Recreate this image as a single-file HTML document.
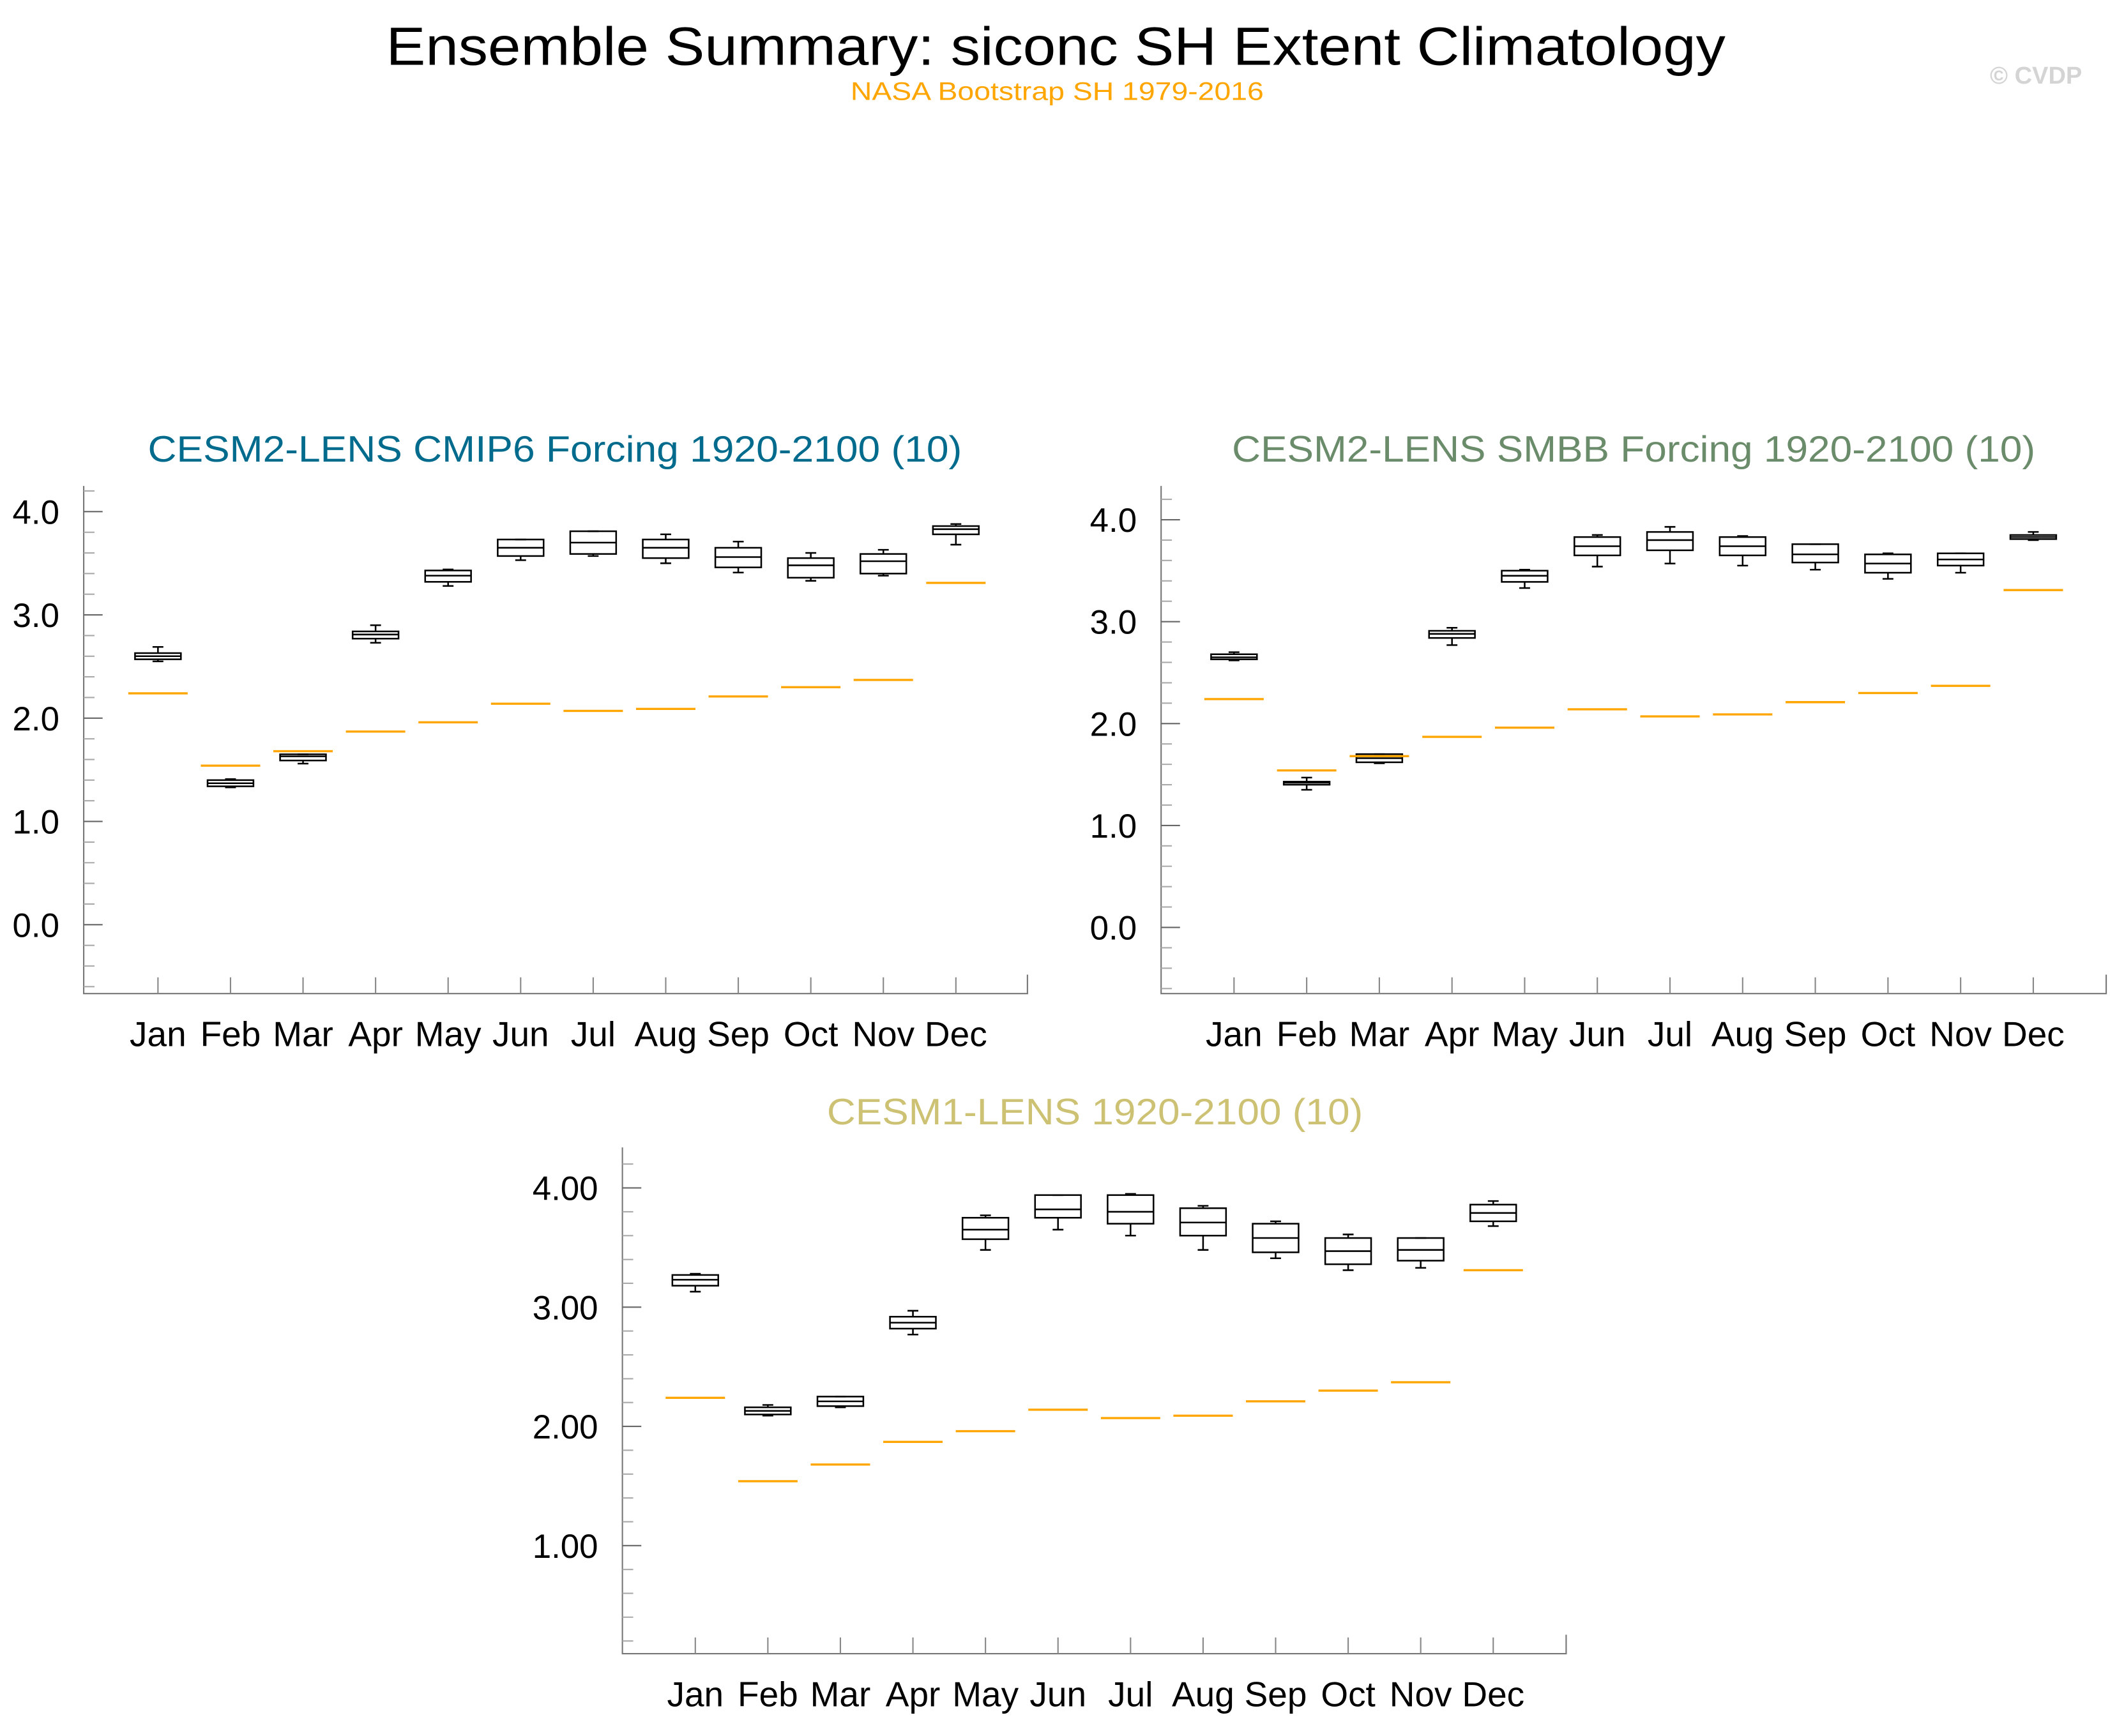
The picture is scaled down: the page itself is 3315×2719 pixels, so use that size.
<!DOCTYPE html>
<html><head><meta charset="utf-8">
<style>
html,body{margin:0;padding:0;background:#fff;}
svg{display:block;}
text{font-family:"Liberation Sans",Arial,sans-serif;}
</style></head>
<body>
<svg id="chart" width="3315" height="2719" viewBox="0 0 1568 1286" preserveAspectRatio="none" xmlns="http://www.w3.org/2000/svg">
<text x="782" y="48" font-size="40" text-anchor="middle" textLength="992" lengthAdjust="spacingAndGlyphs" fill="#000">Ensemble Summary: siconc SH Extent Climatology</text>
<text x="783" y="74" font-size="19" text-anchor="middle" textLength="306" lengthAdjust="spacingAndGlyphs" fill="#ffa500">NASA Bootstrap SH 1979-2016</text>
<text x="1508" y="62" font-size="18" font-weight="bold" text-anchor="middle" fill="#d4d4d4">© CVDP</text>
<g id="plots"></g>
</svg>
<script>
const months = ["Jan","Feb","Mar","Apr","May","Jun","Jul","Aug","Sep","Oct","Nov","Dec"];
const obs = [2.24,1.54,1.68,1.87,1.96,2.14,2.07,2.09,2.21,2.30,2.37,3.31];
const cmip6Max = [2.69,1.41,1.65,2.90,3.44,3.73,3.81,3.78,3.71,3.60,3.63,3.88];
const cmip6Q3  = [2.63,1.40,1.65,2.84,3.43,3.73,3.81,3.73,3.65,3.55,3.59,3.86];
const cmip6Med = [2.60,1.37,1.63,2.81,3.38,3.65,3.70,3.65,3.56,3.48,3.52,3.83];
const cmip6Q1  = [2.57,1.34,1.59,2.77,3.32,3.57,3.59,3.55,3.46,3.36,3.40,3.78];
const cmip6Min = [2.55,1.33,1.56,2.73,3.28,3.53,3.57,3.50,3.41,3.33,3.38,3.68];
const smbbMax = [2.70,1.47,1.70,2.94,3.51,3.85,3.93,3.84,3.76,3.67,3.67,3.88];
const smbbQ3  = [2.68,1.43,1.70,2.91,3.50,3.83,3.88,3.83,3.76,3.66,3.67,3.85];
const smbbMed = [2.65,1.42,1.66,2.88,3.45,3.74,3.80,3.74,3.66,3.57,3.61,3.83];
const smbbQ1  = [2.63,1.40,1.62,2.84,3.39,3.65,3.70,3.65,3.58,3.48,3.55,3.81];
const smbbMin = [2.62,1.35,1.61,2.77,3.33,3.54,3.57,3.55,3.51,3.42,3.48,3.80];
const lens1Max = [3.28,2.18,2.25,2.97,3.77,3.94,3.95,3.85,3.72,3.61,3.58,3.89];
const lens1Q3  = [3.27,2.16,2.25,2.92,3.75,3.94,3.94,3.83,3.70,3.58,3.58,3.86];
const lens1Med = [3.23,2.13,2.21,2.87,3.65,3.82,3.80,3.71,3.58,3.47,3.48,3.79];
const lens1Q1  = [3.18,2.10,2.17,2.82,3.57,3.75,3.70,3.60,3.46,3.36,3.39,3.72];
const lens1Min = [3.13,2.09,2.16,2.77,3.48,3.65,3.60,3.48,3.41,3.31,3.33,3.68];
const ticks1 = ["0.0","1.0","2.0","3.0","4.0"];
const ticks3 = ["1.00","2.00","3.00","4.00"];

const NS="http://www.w3.org/2000/svg";
const root=document.getElementById('plots');
function el(tag,attrs,parent){const e=document.createElementNS(NS,tag);for(const k in attrs)e.setAttribute(k,attrs[k]);(parent||root).appendChild(e);return e;}

const panels=[
 {name:"cmip6",title:"CESM2-LENS CMIP6 Forcing 1920-2100 (10)",color:"#006b8c",tx:411,ty:342,tl:603,
  left:62,right:761,top:360,bottom:736,v0y:685,v4y:379,vmin:-0.6,vmax:4.2,jan:117,dec:708,ticks:ticks1,
  mx:cmip6Max,q3:cmip6Q3,md:cmip6Med,q1:cmip6Q1,mn:cmip6Min},
 {name:"smbb",title:"CESM2-LENS SMBB Forcing 1920-2100 (10)",color:"#6b8c6b",tx:1210,ty:342,tl:595,
  left:860,right:1560,top:360,bottom:736,v0y:687,v4y:385,vmin:-0.6,vmax:4.2,jan:914,dec:1506,ticks:ticks1,
  mx:smbbMax,q3:smbbQ3,md:smbbMed,q1:smbbQ1,mn:smbbMin},
 {name:"cesm1",title:"CESM1-LENS 1920-2100 (10)",color:"#cdc274",tx:811,ty:833,tl:397,
  left:461,right:1160,top:850,bottom:1225,v0y:1145+88.3,v4y:880,vmin:0.2,vmax:4.2,jan:515,dec:1106,ticks:ticks3,
  mx:lens1Max,q3:lens1Q3,md:lens1Med,q1:lens1Q1,mn:lens1Min}
];

panels.forEach(p=>{
  const g=el('g',{});
  
  
  const y=v=>p.v0y+(p.v4y-p.v0y)*v/4;
  const x=i=>p.jan+(p.dec-p.jan)*i/11;
  const t=el('text',{x:p.tx,y:p.ty,'font-size':27,'text-anchor':'middle',fill:p.color,textLength:p.tl,lengthAdjust:'spacingAndGlyphs'},g);
  
  
  t.textContent=p.title;
  const ax=el('path',{d:`M${p.left} ${p.top}V${p.bottom}H${p.right}V${p.bottom-14}`,stroke:'#777',fill:'none','stroke-width':1},g);
  
  
  for(let k=Math.ceil(p.vmin*5);k<=Math.floor(p.vmax*5);k++){
    const v=k/5, yy=y(v), major=(k%5===0);
    el('line',{x1:p.left,x2:p.left+(major?14:8),y1:yy,y2:yy,stroke:major?'#666':'#aaa','stroke-width':1},g);
  }
  p.ticks.forEach(s=>{
    const lb=el('text',{x:p.left-18,y:y(parseFloat(s))+9,'font-size':25,'text-anchor':'end',fill:'#000'},g);
    
    
    lb.textContent=s;
  });
  months.forEach((m,i)=>{
    const xx=x(i);
    el('line',{x1:xx,x2:xx,y1:p.bottom-12,y2:p.bottom,stroke:'#888','stroke-width':1},g);
    const lb=el('text',{x:xx,y:p.bottom+39,'font-size':26,'text-anchor':'middle',fill:'#000'},g);
    
    
    lb.textContent=m;
    const bx=el('g',{stroke:'#000','stroke-width':1.2,fill:'none'},g);
    
    
    const w=17;
    el('line',{x1:xx,x2:xx,y1:y(p.mx[i]),y2:y(p.q3[i])},bx);
    el('line',{x1:xx,x2:xx,y1:y(p.q1[i]),y2:y(p.mn[i])},bx);
    el('line',{x1:xx-4,x2:xx+4,y1:y(p.mx[i]),y2:y(p.mx[i])},bx);
    el('line',{x1:xx-4,x2:xx+4,y1:y(p.mn[i]),y2:y(p.mn[i])},bx);
    el('rect',{x:xx-w,y:y(p.q3[i]),width:2*w,height:Math.max(1,y(p.q1[i])-y(p.q3[i]))},bx);
    el('line',{x1:xx-w,x2:xx+w,y1:y(p.md[i]),y2:y(p.md[i])},bx);
    const ob=el('line',{x1:xx-22,x2:xx+22,y1:y(obs[i]),y2:y(obs[i]),stroke:'#ffa500','stroke-width':1.6},g);
    
    
  });
});
</script>
</body></html>
